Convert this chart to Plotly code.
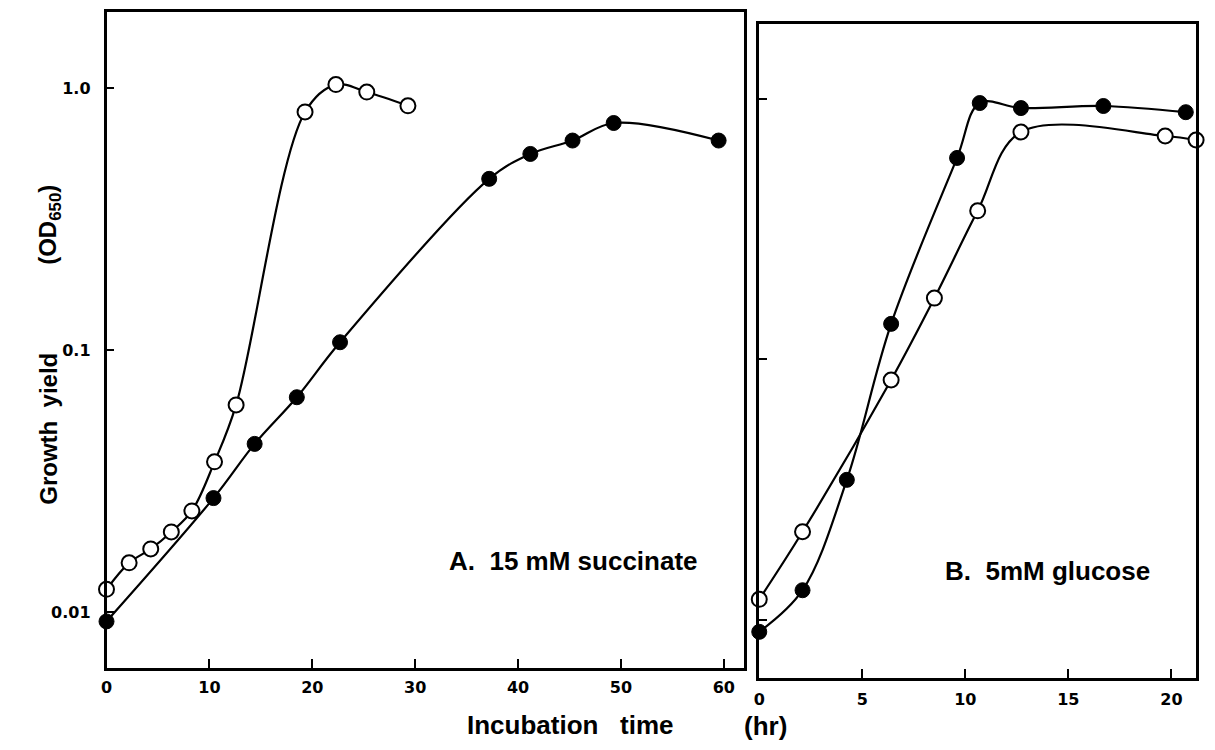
import plotly.graph_objects as go

# ---- Data ----
# Panel A: 15 mM succinate
a_open_x = [0, 2.2, 4.3, 6.3, 8.3, 10.5, 12.6, 19.3, 22.3, 25.3, 29.3]
a_open_y = [0.0122, 0.0154, 0.0174, 0.0202, 0.0243, 0.0374, 0.0617, 0.81, 1.03, 0.965, 0.855]
a_fill_x = [0, 10.4, 14.4, 18.5, 22.7, 37.2, 41.2, 45.3, 49.3, 59.5]
a_fill_y = [0.0092, 0.0272, 0.0438, 0.066, 0.107, 0.45, 0.56, 0.63, 0.735, 0.63]

# Panel B: 5 mM glucose
b_open_x = [0, 2.1, 6.4, 8.5, 10.6, 12.7, 19.7, 21.2]
b_open_y = [0.0120, 0.0218, 0.0834, 0.172, 0.372, 0.747, 0.721, 0.696]
b_fill_x = [0, 2.1, 4.25, 6.4, 9.6, 10.7, 12.7, 16.7, 20.7]
b_fill_y = [0.0090, 0.0130, 0.0345, 0.137, 0.594, 0.965, 0.923, 0.94, 0.89]

a_xticks = [0, 10, 20, 30, 40, 50, 60]
b_xticks = [0, 5, 10, 15, 20]
y_ticks = [0.01, 0.1, 1]
y_ticktext = ["0.01", "0.1", "1.0"]

W, H = 1215, 750
def px(x):
    return x / W
def py(y):
    return 1 - y / H

fig = go.Figure()

line_style = dict(color="black", width=2.2, shape="spline", smoothing=1.0)

for xs, ys, ax in [(a_open_x, a_open_y, 1), (a_fill_x, a_fill_y, 1),
                   (b_open_x, b_open_y, 2), (b_fill_x, b_fill_y, 2)]:
    fig.add_trace(go.Scatter(
        x=xs, y=ys, mode="lines", line=line_style, showlegend=False,
        xaxis="x" if ax == 1 else "x2", yaxis="y" if ax == 1 else "y2",
        hoverinfo="skip", cliponaxis=False))

open_marker = dict(symbol="circle", size=15, color="white",
                   line=dict(color="black", width=2))
fill_marker = dict(symbol="circle", size=15, color="black",
                   line=dict(color="black", width=1))

fig.add_trace(go.Scatter(x=a_open_x, y=a_open_y, mode="markers", marker=open_marker,
                         showlegend=False, xaxis="x", yaxis="y", cliponaxis=False))
fig.add_trace(go.Scatter(x=a_fill_x, y=a_fill_y, mode="markers", marker=fill_marker,
                         showlegend=False, xaxis="x", yaxis="y", cliponaxis=False))
fig.add_trace(go.Scatter(x=b_open_x, y=b_open_y, mode="markers", marker=open_marker,
                         showlegend=False, xaxis="x2", yaxis="y2", cliponaxis=False))
fig.add_trace(go.Scatter(x=b_fill_x, y=b_fill_y, mode="markers", marker=fill_marker,
                         showlegend=False, xaxis="x2", yaxis="y2", cliponaxis=False))

tick_font = dict(family="DejaVu Sans", size=16, color="black", weight="bold")
label_font = dict(family="Liberation Sans, Arial", size=26, color="black", weight="bold")
ylabel_font = dict(family="Liberation Sans, Arial", size=24, color="black", weight="bold")

axis_common = dict(showline=True, linecolor="black", linewidth=2.5, mirror=True,
                   showgrid=False, zeroline=False, ticks="inside", tickwidth=2,
                   tickcolor="black", tickfont=tick_font)

fig.update_layout(
    width=W, height=H,
    margin=dict(l=0, r=0, t=0, b=0),
    paper_bgcolor="white", plot_bgcolor="white",
    xaxis=dict(domain=[px(101), px(742)], range=[0, 62], tickvals=a_xticks,
               ticklen=9, ticklabelstandoff=3, anchor="y", **axis_common),
    yaxis=dict(domain=[py(668), py(12)], type="log", range=[-2.214, 0.290],
               tickvals=y_ticks, ticktext=y_ticktext, ticklen=8,
               ticklabelstandoff=10, anchor="x", **axis_common),
    xaxis2=dict(domain=[px(757), px(1196)], range=[0, 21.2], tickvals=b_xticks,
                ticklen=9, ticklabelstandoff=5, anchor="y2", **axis_common),
    yaxis2=dict(domain=[py(678), py(24)], type="log", range=[-2.223, 0.288],
                tickvals=y_ticks, showticklabels=False, ticklen=8, anchor="x2",
                **axis_common),
)

NB = "\u00a0"
annotations = [
    dict(text="A." + NB * 2 + "15 mM succinate", x=px(570), y=py(561), font=label_font),
    dict(text="B." + NB * 2 + "5mM glucose", x=px(1047), y=py(571), font=label_font),
    dict(text="Incubation" + NB * 3 + "time", x=px(567), y=py(725), font=label_font),
    dict(text="(hr)", x=px(763), y=py(726), font=label_font),
    dict(text="Growth" + NB * 2 + "yield", x=px(43), y=py(429), textangle=-90, font=ylabel_font),
    dict(text="(OD<sub>650</sub>)", x=px(43), y=py(225), textangle=-90, font=ylabel_font),
]
for a in annotations:
    fig.add_annotation(xref="paper", yref="paper", showarrow=False,
                       xanchor="center", yanchor="middle", **a)

fig.write_html("out.html", config={"displayModeBar": False},
               post_script="document.body.style.margin='0px';document.body.style.overflow='hidden';")
